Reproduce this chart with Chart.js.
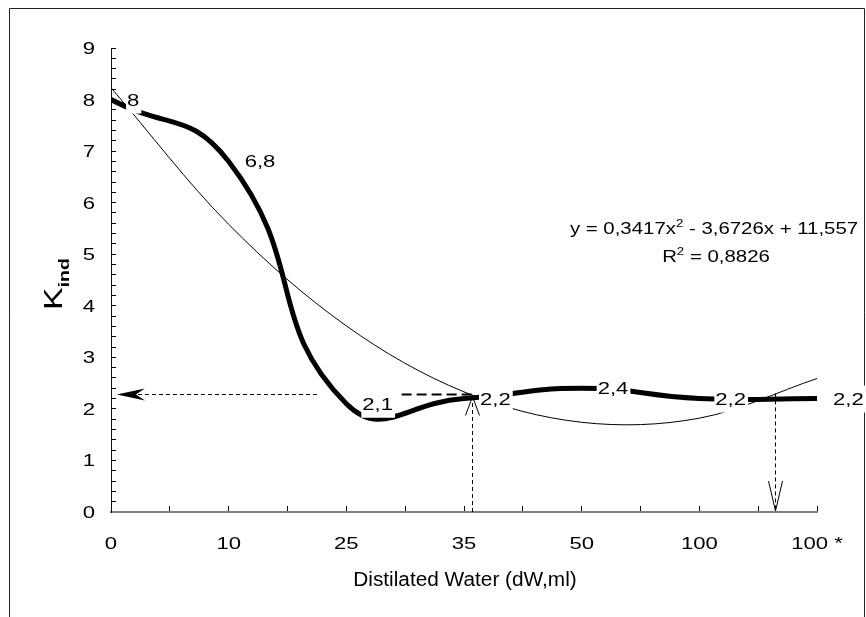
<!DOCTYPE html>
<html>
<head>
<meta charset="utf-8">
<script src="https://cdn.jsdelivr.net/npm/chart.js@4.4.1/dist/chart.umd.min.js"></script>
<style>
html,body{margin:0;padding:0;background:#fff;}
canvas{display:block;}
</style>
</head>
<body>
<canvas id="c" width="866" height="617"></canvas>
<script>
// ---- data ----
const categories = ['0', '10', '25', '35', '50', '100', '100 *'];
const kValues = [8, 6.8, 2.1, 2.2, 2.4, 2.2, 2.2];
// polynomial trend line values at each category (as drawn)
const trendValues = [8.23, 5.58, 3.61, 2.33, 1.74, 1.82, 2.59];
const yTickLabels = ['0', '1', '2', '3', '4', '5', '6', '7', '8', '9'];
const xTitle = 'Distilated Water (dW,ml)';
const yTitleMain = 'K';
const yTitleSub = 'ind';
const eqParts = ['y = 0,3417x', '2', ' - 3,6726x + 11,557'];
const r2Parts = ['R', '2', ' = 0,8826'];
// guide arrows, in data units (x = category index, y = K value)
const guideLeftArrow = [1.75, 0.05, 2.28];   // xFrom, xTo, y
const guideDashSeg = [2.47, 3.07, 2.28];     // xFrom, xTo, y
const guideUpArrow = [3.07, 0, 2.24];        // x, yFrom, yTo
const guideDownArrow = [5.64, 2.30, 0];      // x, yFrom, yTo

const FONT = "'Liberation Sans', Arial, sans-serif";

function drawRich(ctx, segs, x, y, align, sx) {
  let total = 0;
  segs.forEach(s => {
    ctx.font = (s.bold ? 'bold ' : '') + s.size + 'px ' + FONT;
    s.w = ctx.measureText(s.text).width;
    total += s.w;
  });
  const start = align === 'center' ? -total * sx / 2 : (align === 'right' ? -total * sx : 0);
  ctx.save();
  ctx.translate(x + start, y);
  ctx.scale(sx, 1);
  ctx.textAlign = 'left';
  ctx.textBaseline = 'alphabetic';
  ctx.fillStyle = '#000';
  let cx = 0;
  segs.forEach(s => {
    ctx.font = (s.bold ? 'bold ' : '') + s.size + 'px ' + FONT;
    ctx.fillText(s.text, cx, s.dy || 0);
    cx += s.w;
  });
  ctx.restore();
  return total * sx;
}

function dashedLine(ctx, x1, y1, x2, y2, dash, width) {
  ctx.save();
  ctx.strokeStyle = '#000';
  ctx.lineWidth = width;
  ctx.setLineDash(dash);
  ctx.beginPath();
  ctx.moveTo(x1, y1);
  ctx.lineTo(x2, y2);
  ctx.stroke();
  ctx.restore();
}

const decor = {
  id: 'decor',
  beforeDraw(chart) {
    const ctx = chart.ctx;
    ctx.save();
    ctx.fillStyle = '#fff';
    ctx.fillRect(0, 0, chart.width, chart.height);
    ctx.strokeStyle = '#222';
    ctx.lineWidth = 1;
    ctx.beginPath();
    ctx.moveTo(9.5, chart.height);
    ctx.lineTo(9.5, 8.5);
    ctx.lineTo(864.5, 8.5);
    ctx.lineTo(864.5, chart.height);
    ctx.stroke();
    ctx.restore();
  },
  afterDatasetsDraw(chart) {
    const ctx = chart.ctx;
    const xs = chart.scales.x, ys = chart.scales.y;
    // horizontal guide with filled arrow head pointing at the y axis
    let yy = Math.round(ys.getPixelForValue(guideLeftArrow[2])) + 0.5;
    let xa = xs.getPixelForValue(guideLeftArrow[0]);
    let xb = xs.getPixelForValue(guideLeftArrow[1]);
    dashedLine(ctx, xa, yy, xb + 18, yy, [4, 3], 1);
    ctx.save();
    ctx.fillStyle = '#000';
    ctx.beginPath();
    ctx.moveTo(xb, yy);
    ctx.lineTo(xb + 28, yy - 6);
    ctx.lineTo(xb + 19, yy);
    ctx.lineTo(xb + 28, yy + 6);
    ctx.closePath();
    ctx.fill();
    ctx.restore();
    // long-dash segment
    yy = ys.getPixelForValue(guideDashSeg[2]);
    dashedLine(ctx, xs.getPixelForValue(guideDashSeg[0]), yy, xs.getPixelForValue(guideDashSeg[1]), yy, [10, 5], 2);
    // vertical arrow up
    let vx = Math.round(xs.getPixelForValue(guideUpArrow[0])) + 0.5;
    let vy1 = ys.getPixelForValue(guideUpArrow[1]);
    let vy2 = ys.getPixelForValue(guideUpArrow[2]);
    dashedLine(ctx, vx, vy1, vx, vy2 + 2, [4, 3], 1);
    ctx.save();
    ctx.strokeStyle = '#000';
    ctx.lineWidth = 1;
    ctx.beginPath();
    ctx.moveTo(vx - 7, vy2 + 19);
    ctx.lineTo(vx, vy2);
    ctx.lineTo(vx + 7, vy2 + 19);
    ctx.stroke();
    ctx.restore();
    // vertical arrow down
    vx = Math.round(xs.getPixelForValue(guideDownArrow[0])) + 0.5;
    vy1 = ys.getPixelForValue(guideDownArrow[1]);
    vy2 = ys.getPixelForValue(guideDownArrow[2]);
    dashedLine(ctx, vx, vy1, vx, vy2 - 2, [4, 3], 1);
    ctx.save();
    ctx.strokeStyle = '#000';
    ctx.lineWidth = 1;
    ctx.beginPath();
    ctx.moveTo(vx - 7, vy2 - 31);
    ctx.lineTo(vx, vy2 - 1);
    ctx.lineTo(vx + 7, vy2 - 31);
    ctx.stroke();
    ctx.restore();

    // data labels with white boxes
    const meta = chart.getDatasetMeta(0);
    meta.data.forEach((pt, i) => {
      const txt = String(kValues[i]).replace('.', ',');
      ctx.font = '17px ' + FONT;
      const w = ctx.measureText(txt).width * 1.3;
      const tx = pt.x + 16;
      ctx.save();
      ctx.fillStyle = '#fff';
      ctx.fillRect(tx - 1, pt.y - 13, w + 3, 27);
      ctx.restore();
      drawRich(ctx, [{text: txt, size: 17}], tx, pt.y + 6, 'left', 1.3);
    });
  },
  afterDraw(chart) {
    const ctx = chart.ctx;
    const xs = chart.scales.x, ys = chart.scales.y;
    // y tick labels
    yTickLabels.forEach((lab, i) => {
      const py = ys.getPixelForValue(i);
      drawRich(ctx, [{text: lab, size: 17}], xs.left - 16, py + 6, 'right', 1.3);
    });
    // x tick labels
    categories.forEach((lab, i) => {
      const px = xs.getPixelForValue(i);
      drawRich(ctx, [{text: lab, size: 17}], px, ys.bottom + 37, 'center', 1.3);
    });
    // x title
    drawRich(ctx, [{text: xTitle, size: 20}], (xs.left + xs.right) / 2 + 1, 586, 'center', 1.04);
    // y title (rotated)
    ctx.save();
    ctx.translate(62, 284);
    ctx.rotate(-Math.PI / 2);
    drawRich(ctx, [{text: yTitleMain, size: 26}, {text: yTitleSub, size: 15, bold: true, dy: 7}], 0, 0, 'center', 1.3);
    ctx.restore();
    // trend line equation
    drawRich(ctx, [{text: eqParts[0], size: 17}, {text: eqParts[1], size: 11, dy: -7}, {text: eqParts[2], size: 17}], 714, 234, 'center', 1.2);
    drawRich(ctx, [{text: r2Parts[0], size: 17}, {text: r2Parts[1], size: 11, dy: -7}, {text: r2Parts[2], size: 17}], 716, 262, 'center', 1.2);
  }
};

const kPoints = kValues.map((v, i) => ({x: i, y: v}));
const trendPoints = trendValues.map((v, i) => ({x: i, y: v}));

new Chart(document.getElementById('c'), {
  type: 'line',
  data: {
    datasets: [
      {
        label: 'K ind',
        data: kPoints,
        borderColor: '#000',
        borderWidth: 5,
        pointRadius: 0,
        tension: 0.5,
        fill: false
      },
      {
        label: 'Poly. trend',
        data: trendPoints,
        borderColor: '#000',
        borderWidth: 1,
        pointRadius: 0,
        tension: 0.34,
        fill: false
      }
    ]
  },
  options: {
    responsive: false,
    devicePixelRatio: 1,
    animation: false,
    layout: {padding: {left: 111, right: 49, top: 48, bottom: 105}},
    plugins: {legend: {display: false}, tooltip: {enabled: false}},
    scales: {
      x: {
        type: 'linear',
        min: 0,
        max: 6,
        ticks: {stepSize: 0.5, display: false},
        grid: {display: true, drawOnChartArea: false, drawTicks: true, tickLength: -6, color: '#000', lineWidth: 1},
        border: {display: true, color: '#808080', width: 2},
        afterFit(s) { s.height = 0; }
      },
      y: {
        type: 'linear',
        min: 0,
        max: 9,
        ticks: {stepSize: 0.2, display: false},
        grid: {display: true, drawOnChartArea: false, drawTicks: true, tickLength: -5, color: '#000', lineWidth: 1},
        border: {display: true, color: '#111', width: 1},
        afterFit(s) { s.width = 0; }
      }
    }
  },
  plugins: [decor]
});
</script>
</body>
</html>
